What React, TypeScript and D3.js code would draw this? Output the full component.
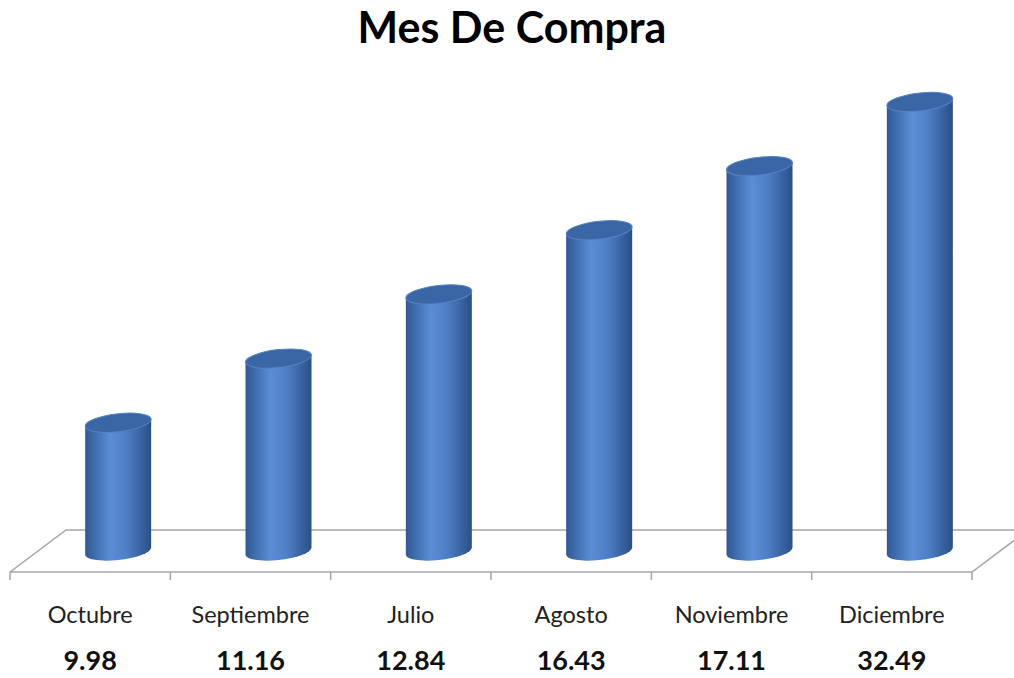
import React, { useEffect, useRef } from "react";
import * as d3 from "d3";

const categories = ["Octubre", "Septiembre", "Julio", "Agosto", "Noviembre", "Diciembre"];
const valueLabels = ["9.98", "11.16", "12.84", "16.43", "17.11", "32.49"];
// bar levels
const barLevels = [2, 3, 4, 5, 6, 7];

const width = 1014;
const height = 678;

const App = () => {
  const svgRef = useRef<SVGSVGElement>(null);

  useEffect(() => {
    const svg = d3.select(svgRef.current);
    svg.selectAll("*").remove();
    svg.attr("width", width).attr("height", height);

    const font = "Lato, 'Open Sans', sans-serif";
    const floorFront = 572;
    const floorBack = 530;
    const depth = 56;

    const x = d3.scaleBand<string>().domain(categories).range([10, 972]).padding(0);
    const y = d3.scaleLinear().domain([0, 7]).range([551, 102]);

    const defs = svg.append("defs");
    const grad = defs
      .append("linearGradient")
      .attr("id", "cyl-body")
      .attr("x1", "0%")
      .attr("x2", "100%")
      .attr("y1", "0%")
      .attr("y2", "0%");
    grad.append("stop").attr("offset", "0%").attr("stop-color", "#2f5995");
    grad.append("stop").attr("offset", "38%").attr("stop-color", "#5a8ed5");
    grad.append("stop").attr("offset", "62%").attr("stop-color", "#4e80c6");
    grad.append("stop").attr("offset", "100%").attr("stop-color", "#2a4f86");

    // title
    svg
      .append("text")
      .attr("x", 512)
      .attr("y", 43)
      .attr("text-anchor", "middle")
      .style("font-family", font)
      .style("font-weight", "bold")
      .style("font-size", "43px")
      .style("fill", "#000")
      .text("Mes De Compra");

    // floor
    const [x0, x1] = x.range();
    const floor = svg.append("g").attr("stroke", "#a6a6a6").attr("stroke-width", 1.5).attr("fill", "none");
    floor
      .append("path")
      .attr(
        "d",
        `M${x0},${floorFront} L${x0 + depth},${floorBack} L${x1 + depth},${floorBack} M${x0},${floorFront} L${x1},${floorFront} L${x1 + depth},${floorFront - 42}`
      );
    const tickPos = categories.map((c) => x(c)!).concat([x1]);
    floor
      .selectAll("line.tick")
      .data(tickPos)
      .join("line")
      .attr("x1", (d) => d)
      .attr("x2", (d) => d)
      .attr("y1", floorFront)
      .attr("y2", floorFront + 8);

    // cylinders
    const rx = 33;
    const ry = 9;
    const skew = -6;
    const bars = svg
      .selectAll("g.bar")
      .data(categories)
      .join("g")
      .attr("class", "bar")
      .attr("transform", (d) => `translate(${x(d)! + x.bandwidth() / 2 + 28},0) skewY(${skew})`);

    bars.each(function (d, i) {
      const g = d3.select(this);
      const top = y(barLevels[i]);
      const bottom = y(0);
      g.append("path")
        .attr(
          "d",
          `M${-rx},${top} L${-rx},${bottom} A${rx},${ry} 0 0 0 ${rx},${bottom} L${rx},${top} Z`
        )
        .attr("fill", "url(#cyl-body)");
      g.append("ellipse")
        .attr("cx", 0)
        .attr("cy", top)
        .attr("rx", rx)
        .attr("ry", ry)
        .attr("fill", "#3a66a6")
        .attr("stroke", "#5584c4")
        .attr("stroke-width", 1);
    });

    // category labels
    svg
      .selectAll("text.cat")
      .data(categories)
      .join("text")
      .attr("class", "cat")
      .attr("x", (d) => x(d)! + x.bandwidth() / 2)
      .attr("y", 623)
      .attr("text-anchor", "middle")
      .style("font-family", font)
      .style("font-size", "23.5px")
      .style("fill", "#222")
      .text((d) => d);

    // value labels
    svg
      .selectAll("text.val")
      .data(valueLabels)
      .join("text")
      .attr("class", "val")
      .attr("x", (d, i) => x(categories[i])! + x.bandwidth() / 2)
      .attr("y", 670)
      .attr("text-anchor", "middle")
      .style("font-family", font)
      .style("font-weight", "bold")
      .style("font-size", "27px")
      .style("fill", "#111")
      .text((d) => d);
  }, []);

  return (
    <div style={{ position: "absolute", left: 0, top: 0, background: "#fff" }}>
      <svg ref={svgRef} style={{ display: "block" }}></svg>
    </div>
  );
};

export default App;
